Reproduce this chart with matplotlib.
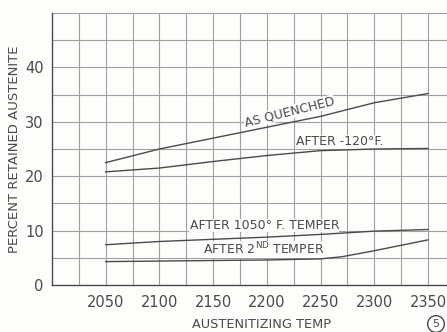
import numpy as np
import matplotlib
matplotlib.use("Agg")
import matplotlib.pyplot as plt

# austenitizing temperature (F) and percent retained austenite
temps = [2050, 2100, 2150, 2200, 2250, 2300, 2350]
as_quenched = [22.5, 25.0, 27.0, 29.0, 31.0, 33.5, 35.2]
after_120 = [20.8, 21.5, 22.7, 23.8, 24.7, 25.0, 25.1]
after_1050 = [7.4, 8.0, 8.4, 8.8, 9.3, 9.9, 10.2]
temps_2nd = [2050, 2100, 2150, 2200, 2250, 2270, 2300, 2350]
after_2nd = [4.3, 4.4, 4.5, 4.6, 4.8, 5.2, 6.3, 8.3]

xticks = [2050, 2100, 2150, 2200, 2250, 2300, 2350]
yticks = [0, 10, 20, 30, 40]

ink = "#4a4a4a"
grid = "#a0a0a0"
plt.rcParams['font.family'] = ['DejaVu Sans']

fig = plt.figure(figsize=(4.47, 3.32), dpi=100)
fig.patch.set_facecolor("#fdfdfc")
ax = fig.add_axes([52/447, 47/332, 395/447, 272/332])
ax.set_facecolor("#fdfdfc")

ax.set_xlim(2000, 2367.7)
ax.set_ylim(0, 50)

# drafting grid: every 25 degrees and every 5 percent
for gx in np.arange(2025, 2360, 25):
    ax.axvline(gx, color=grid, lw=0.8, zorder=1)
for gy in np.arange(5, 51, 5):
    ax.axhline(gy, color=grid, lw=0.8, zorder=1)

for s in ["top", "right"]:
    ax.spines[s].set_visible(False)
ax.spines["left"].set_color(ink)
ax.spines["bottom"].set_color(ink)
ax.spines["left"].set_linewidth(1.0)
ax.spines["bottom"].set_linewidth(1.0)

ax.plot(temps, as_quenched, color=ink, lw=1.0, zorder=3)
ax.plot(temps, after_120, color=ink, lw=1.0, zorder=3)
ax.plot(temps, after_1050, color=ink, lw=1.0, zorder=3)
ax.plot(temps_2nd, after_2nd, color=ink, lw=1.0, zorder=3)

box = dict(facecolor="#fdfdfc", edgecolor="none", pad=0.2)
tkw = dict(color=ink, fontsize=9, zorder=2, bbox=box)
ax.text(2221, 31.8, "AS QUENCHED", rotation=14, ha="center", va="center",
        rotation_mode="anchor", **tkw)
ax.text(2227, 26.3, "AFTER -120°F.", ha="left", va="center", **tkw)
ax.text(2128, 10.9, "AFTER 1050° F. TEMPER", ha="left", va="center", **tkw)
ax.text(2141, 6.6, "AFTER 2$^{\\rm ND}$ TEMPER", ha="left", va="center", **tkw)

ax.set_xticks(xticks)
ax.set_yticks(yticks)
ax.tick_params(axis="x", length=0, colors=ink, labelsize=10.5, pad=7)
ax.tick_params(axis="y", length=0, colors=ink, labelsize=10.5, pad=6)
ax.set_ylabel("PERCENT RETAINED AUSTENITE", color=ink, fontsize=9.5)
ax.yaxis.set_label_coords(-0.078, 0.5)
ax.set_xlabel("AUSTENITIZING TEMP", color=ink, fontsize=9.3)
ax.xaxis.set_label_coords(0.53, -0.12)

fig.text(436/447, 1 - 324/332, "5", color=ink, fontsize=8, ha="center", va="center",
         bbox=dict(boxstyle="circle,pad=0.3", facecolor="none", edgecolor=ink, lw=1.0))

fig.savefig("out.png", dpi=100, facecolor=fig.get_facecolor())
